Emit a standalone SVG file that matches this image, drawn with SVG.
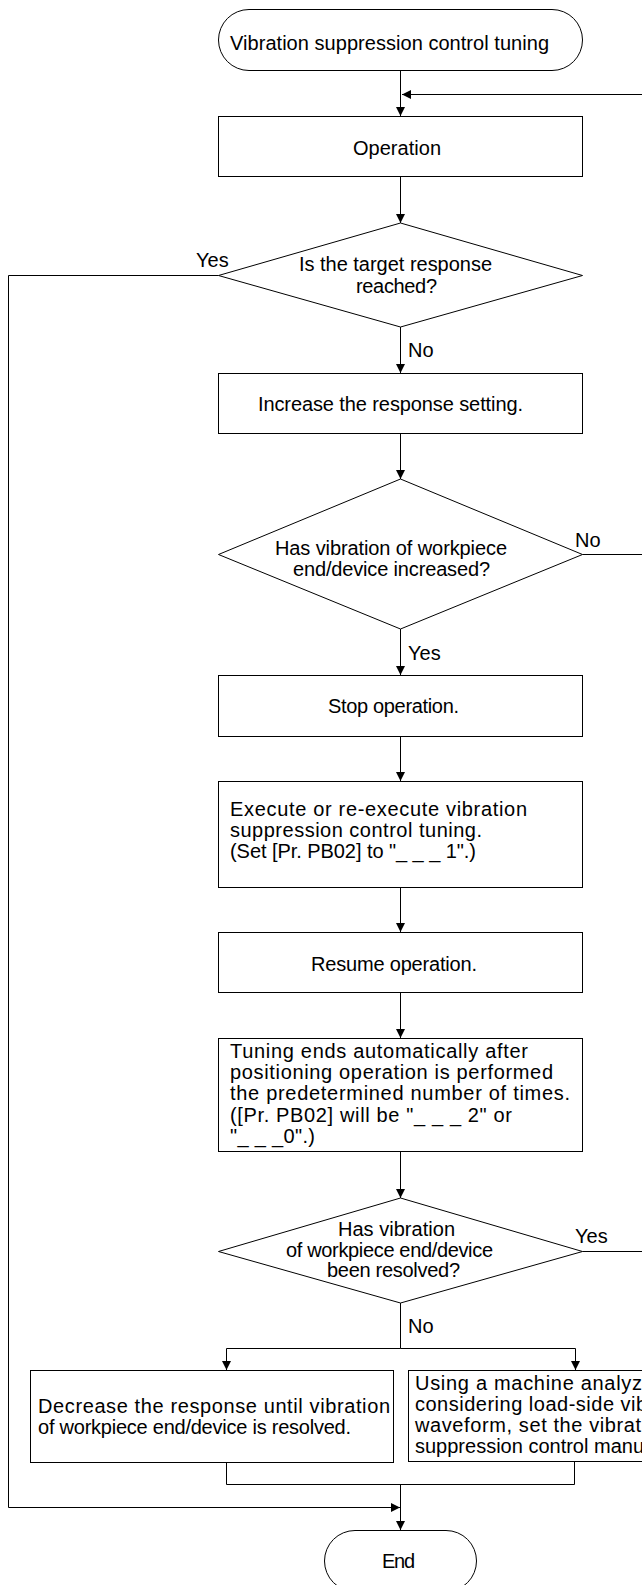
<svg xmlns="http://www.w3.org/2000/svg" width="642" height="1585" viewBox="0 0 642 1585">
<style>
.shape{fill:#fff;stroke:#000;stroke-width:1}
.ln{fill:none;stroke:#000;stroke-width:1}
text{font-family:"Liberation Sans",Arial,sans-serif;font-size:20px;fill:#000}
</style>
<defs>
<marker id="ah" markerUnits="userSpaceOnUse" markerWidth="10" markerHeight="10" refX="9" refY="4.5" orient="auto">
<path d="M0,0 L9,4.5 L0,9 z" fill="#000"/>
</marker>
</defs>
<rect width="642" height="1585" fill="#fff"/>
<g id="connectors">
<path class="ln" d="M400.5,70.5 V116" marker-end="url(#ah)"/>
<path class="ln" d="M582.5,554.5 H646 M582.5,1251.5 H646 V94.5 H402" marker-end="url(#ah)"/>
<path class="ln" d="M400.5,176.5 V223" marker-end="url(#ah)"/>
<path class="ln" d="M218.5,275.5 H8.5 V1507.5 H400" marker-end="url(#ah)"/>
<path class="ln" d="M400.5,327 V373" marker-end="url(#ah)"/>
<path class="ln" d="M400.5,433.5 V479" marker-end="url(#ah)"/>
<path class="ln" d="M400.5,629 V675" marker-end="url(#ah)"/>
<path class="ln" d="M400.5,736.5 V781" marker-end="url(#ah)"/>
<path class="ln" d="M400.5,887.5 V932" marker-end="url(#ah)"/>
<path class="ln" d="M400.5,992.5 V1038" marker-end="url(#ah)"/>
<path class="ln" d="M400.5,1151.5 V1198" marker-end="url(#ah)"/>
<path class="ln" d="M400.5,1303 V1348.5 H226.5 V1370" marker-end="url(#ah)"/>
<path class="ln" d="M400.5,1348.5 H575.5 V1370" marker-end="url(#ah)"/>
<path class="ln" d="M226.5,1462.5 V1484.5 H574.5 V1461.5"/>
<path class="ln" d="M400.5,1484.5 V1530" marker-end="url(#ah)"/>
<text x="196" y="267">Yes</text>
<text x="408" y="357">No</text>
<text x="575" y="547">No</text>
<text x="408" y="660">Yes</text>
<text x="575" y="1243">Yes</text>
<text x="408" y="1333">No</text>
</g>
<g id="start">
<rect class="shape" x="218.5" y="9.5" width="364" height="61" rx="30.5" ry="30.5"/>
<text x="230" y="50" textLength="319">Vibration suppression control tuning</text>
</g>
<g id="operation">
<rect class="shape" x="218.5" y="116.5" width="364" height="60"/>
<text x="353" y="155" textLength="88">Operation</text>
</g>
<g id="decision1">
<polygon class="shape" points="400.5,223 582.5,275.5 400.5,327 218.5,275.5"/>
<text x="299" y="271" textLength="193">Is the target response</text>
<text x="356" y="293" textLength="81">reached?</text>
</g>
<g id="increase">
<rect class="shape" x="218.5" y="373.5" width="364" height="60"/>
<text x="258" y="411" textLength="265">Increase the response setting.</text>
</g>
<g id="decision2">
<polygon class="shape" points="400.5,479 582.5,554.5 400.5,629 218.5,554.5"/>
<text x="275" y="555" textLength="232">Has vibration of workpiece</text>
<text x="293" y="576" textLength="197">end/device increased?</text>
</g>
<g id="stop">
<rect class="shape" x="218.5" y="675.5" width="364" height="61"/>
<text x="328" y="713" textLength="131">Stop operation.</text>
</g>
<g id="execute">
<rect class="shape" x="218.5" y="781.5" width="364" height="106"/>
<text x="230" y="816" textLength="297">Execute or re-execute vibration</text>
<text x="230" y="837" textLength="252">suppression control tuning.</text>
<text x="230" y="858" textLength="246">(Set [Pr. PB02] to "_ _ _ 1".)</text>
</g>
<g id="resume">
<rect class="shape" x="218.5" y="932.5" width="364" height="60"/>
<text x="311" y="971" textLength="166">Resume operation.</text>
</g>
<g id="tuning">
<rect class="shape" x="218.5" y="1038.5" width="364" height="113"/>
<text x="230" y="1058" textLength="298">Tuning ends automatically after</text>
<text x="230" y="1079" textLength="323">positioning operation is performed</text>
<text x="230" y="1100" textLength="340">the predetermined number of times.</text>
<text x="230" y="1122" textLength="282">([Pr. PB02] will be "_ _ _ 2" or</text>
<text x="230" y="1143" textLength="85">"_ _ _0".)</text>
</g>
<g id="decision3">
<polygon class="shape" points="400.5,1198 582.5,1251.5 400.5,1303 218.5,1251.5"/>
<text x="338" y="1236" textLength="117">Has vibration</text>
<text x="286" y="1257" textLength="207">of workpiece end/device</text>
<text x="327" y="1277" textLength="133">been resolved?</text>
</g>
<g id="decrease">
<rect class="shape" x="30.5" y="1370.5" width="363" height="92"/>
<text x="38" y="1413" textLength="352">Decrease the response until vibration</text>
<text x="38" y="1434" textLength="313">of workpiece end/device is resolved.</text>
</g>
<g id="manual">
<rect class="shape" x="408.5" y="1370.5" width="300" height="91"/>
<text x="415" y="1390" letter-spacing="0.7">Using a machine analyz</text>
<text x="415" y="1411" letter-spacing="0.5">considering load-side vib</text>
<text x="415" y="1432" letter-spacing="0.6">waveform, set the vibrat</text>
<text x="415" y="1453">suppression control manu</text>
</g>
<g id="end">
<rect class="shape" x="324.5" y="1530.5" width="152" height="61" rx="30.5" ry="30.5"/>
<text x="382" y="1568" textLength="33">End</text>
</g>
</svg>
